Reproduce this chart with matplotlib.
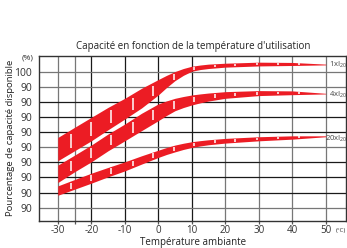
import numpy as np
import matplotlib
matplotlib.use("Agg")
import matplotlib.pyplot as plt

plt.rcParams['font.family'] = ['Open Sans', 'DejaVu Sans']

# temperatures (°C) where the band edges were read
temps = [-30, -25, -20, -15, -10, -5, 0, 2.5, 5, 7.5, 10, 12.5, 15, 20, 30, 40, 50]

# band edges, in grid rows (1 = lowest "90" line, 10 = "100" line)
top_hi = [5.64, 6.31, 6.97, 7.63, 8.23, 8.89, 9.47, 9.75, 10.00, 10.20, 10.35, 10.43, 10.49, 10.55, 10.62, 10.60, 10.49]
top_lo = [4.10, 4.76, 5.42, 6.15, 6.86, 7.59, 8.45, 8.95, 9.40, 9.75, 10.02, 10.13, 10.20, 10.29, 10.37, 10.40, 10.44]
mid_hi = [3.81, 4.47, 5.14, 5.87, 6.53, 7.24, 7.86, 8.06, 8.23, 8.35, 8.45, 8.52, 8.58, 8.67, 8.74, 8.72, 8.56]
mid_lo = [2.66, 3.37, 4.03, 4.76, 5.42, 6.09, 6.75, 7.10, 7.41, 7.62, 7.79, 7.93, 8.05, 8.23, 8.41, 8.47, 8.52]
low_hi = [2.44, 2.86, 3.28, 3.66, 4.03, 4.43, 4.80, 4.98, 5.14, 5.26, 5.36, 5.43, 5.49, 5.58, 5.69, 5.75, 5.75]
low_lo = [1.82, 2.22, 2.62, 3.04, 3.43, 3.88, 4.32, 4.52, 4.69, 4.85, 4.98, 5.08, 5.16, 5.27, 5.42, 5.53, 5.69]

band_names = ['1xI', '4xI', '20xI']
name_rows = [10.46, 8.47, 5.56]

# white marks along the bands
mark_temps = [-26, -20, -14, -7.6, -1.5, 4.7, 10.8, 17, 23, 29.4, 35.7, 42]

x_ticks = [-30, -20, -10, 0, 10, 20, 30, 40, 50]
x_grid = [-30, -25, -20, -10, 0, 10, 20, 30, 40, 50]
x_dark = [-20, -10, 0, 10]
y_rows = [1, 2, 3, 4, 5, 6, 7, 8, 9, 10]
y_labels = ['90'] * 9 + ['100']
y_dark = [2, 3, 4, 6, 7, 8]

red = '#ec1c24'

fig = plt.figure(figsize=(3.47, 2.48), dpi=100)
ax = fig.add_axes([0.1124, 0.1089, 0.8833, 0.6673])
ax.set_xlim(-35.6, 55.9)
ax.set_ylim(0.12, 11.06)

for x in x_grid:
    ax.axvline(x, color='#1a1a1a' if x in x_dark else '#777777', lw=0.9, zorder=1)
for y in y_rows:
    ax.axhline(y, color='#1a1a1a' if y in y_dark else '#777777', lw=0.9, zorder=1)

bands = [(top_lo, top_hi), (mid_lo, mid_hi), (low_lo, low_hi)]
for lo, hi in bands:
    ax.fill_between(temps, lo, hi, color=red, lw=0, zorder=2)
    mlo = np.interp(mark_temps, temps, lo)
    mhi = np.interp(mark_temps, temps, hi)
    w = mhi - mlo
    ax.vlines(mark_temps, mlo + 0.2 * w, mhi - 0.2 * w, color='white', lw=1.1, zorder=3)

for name, row in zip(band_names, name_rows):
    xpos = 49.8 if name == '20xI' else 50.9
    ax.text(xpos, row, name + r'$_{\mathregular{20}}$', fontsize=5.5, color='#444444',
            ha='left', va='center', zorder=4)

ax.set_xticks(x_ticks)
ax.set_xticks([-25], minor=True)
ax.set_xticklabels([str(t) for t in x_ticks], fontsize=7, color='#333333')
ax.set_yticks(y_rows)
ax.set_yticklabels(y_labels, fontsize=7.5, color='#333333')
ax.tick_params(axis='x', which='both', length=2, width=0.9, color='#555555', pad=1)
ax.tick_params(axis='y', length=0, pad=5)
for s in ax.spines.values():
    s.set_color('#333333')
    s.set_linewidth(1.0)

fig.text(0.557, 0.812, "Capacité en fonction de la température d'utilisation",
         ha='center', va='center', fontsize=7, color='#222222')
fig.text(0.03, 0.4435, 'Pourcentage de capacité disponible', rotation=90,
         ha='center', va='center', fontsize=6.8, color='#222222')
fig.text(0.556, 0.022, 'Température ambiante', ha='center', va='center',
         fontsize=7, color='#222222')
fig.text(0.096, 0.768, '(%)', ha='right', va='center', fontsize=6, color='#333333')
fig.text(0.968, 0.07, '(°C)', ha='left', va='center', fontsize=4.5, color='#333333')

fig.savefig('out.png', dpi=100)
